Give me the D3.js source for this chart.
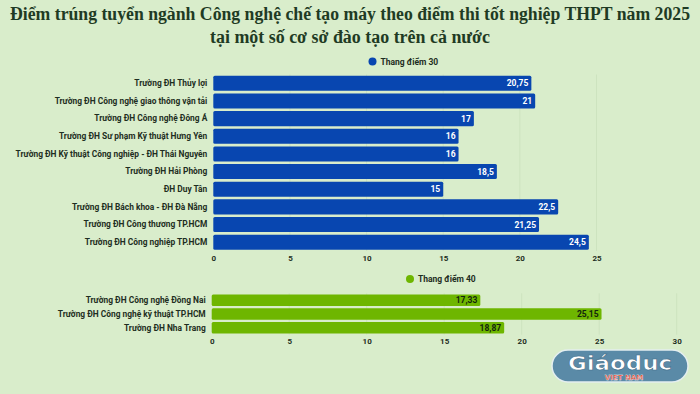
<!DOCTYPE html>
<html>
<head>
<meta charset="utf-8">
<script src="https://cdn.jsdelivr.net/npm/d3@7"></script>
<style>
  body { margin: 0; background: #d9edcb; }
  svg { display: block; }
</style>
</head>
<body>
<div id="chart"></div>
<script>
// Data
const titleLines = [
    'Điểm trúng tuyển ngành Công nghệ chế tạo máy theo điểm thi tốt nghiệp THPT năm 2025',
    'tại một số cơ sở đào tạo trên cả nước'
]

const schools30 = [
    'Trường ĐH Thủy lợi',
    'Trường ĐH Công nghệ giao thông vận tải',
    'Trường ĐH Công nghệ Đông Á',
    'Trường ĐH Sư phạm Kỹ thuật Hưng Yên',
    'Trường ĐH Kỹ thuật Công nghiệp - ĐH Thái Nguyên',
    'Trường ĐH Hải Phòng',
    'ĐH Duy Tân',
    'Trường ĐH Bách khoa - ĐH Đà Nẵng',
    'Trường ĐH Công thương TP.HCM',
    'Trường ĐH Công nghiệp TP.HCM'
]
const scores30 = [20.75, 21, 17, 16, 16, 18.5, 15, 22.5, 21.25, 24.5]
const ticks30 = [0, 5, 10, 15, 20, 25]

const schools40 = [
    'Trường ĐH Công nghệ Đồng Nai',
    'Trường ĐH Công nghệ kỹ thuật TP.HCM',
    'Trường ĐH Nha Trang'
]
const scores40 = [17.33, 25.15, 18.87]
const ticks40 = [0, 5, 10, 15, 20, 25, 30]

const legendNames = ['Thang điểm 30', 'Thang điểm 40']

let dimensions = { width: 700, height: 394 }

const svg = d3.select('#chart')
    .append('svg')
    .attr('width', dimensions.width)
    .attr('height', dimensions.height)

svg.append('rect')
    .attr('width', dimensions.width)
    .attr('height', dimensions.height)
    .attr('fill', '#d9edcb')

// Title
svg.selectAll('.title')
    .data(titleLines)
    .join('text')
    .attr('class', 'title')
    .attr('x', 350)
    .attr('y', (d, i) => 20 + i * 23)
    .attr('text-anchor', 'middle')
    .attr('font-family', '"Liberation Serif", "DejaVu Serif", serif')
    .attr('font-weight', 'bold')
    .attr('font-size', '18px')
    .attr('fill', '#1f3b24')
    .attr('textLength', (d, i) => i === 0 ? 680 : 280)
    .attr('lengthAdjust', 'spacingAndGlyphs')
    .text(d => d)

const labelFont = 'Roboto, "Noto Sans", sans-serif'

function drawPanel(cfg) {
    const xScale = d3.scaleLinear()
        .domain(cfg.domain)
        .range([cfg.left, cfg.right])

    const yScale = d3.scaleBand()
        .domain(cfg.names)
        .range([cfg.top, cfg.bottom])
        .paddingInner(cfg.pad)
        .paddingOuter(cfg.pad / 2)

    const g = svg.append('g')

    // faint gridlines
    g.selectAll('.grid')
        .data(cfg.ticks.slice(1))
        .join('line')
        .attr('x1', d => xScale(d))
        .attr('x2', d => xScale(d))
        .attr('y1', cfg.top)
        .attr('y2', cfg.bottom)
        .attr('stroke', '#cde3bf')
        .attr('stroke-width', 1)

    // legend
    g.append('circle')
        .attr('cx', cfg.legendX)
        .attr('cy', cfg.legendY)
        .attr('r', 4)
        .attr('fill', cfg.color)
    g.append('text')
        .attr('x', cfg.legendX + 8)
        .attr('y', cfg.legendY + 3)
        .attr('font-family', labelFont)
        .attr('font-size', '8.5px')
        .attr('font-weight', 700)
        .attr('fill', '#1e2e22')
        .text(cfg.legend)

    // bars
    const data = cfg.names.map((n, i) => ({ name: n, value: cfg.values[i] }))
    g.selectAll('.bar')
        .data(data)
        .join('rect')
        .attr('x', xScale(0))
        .attr('y', d => yScale(d.name))
        .attr('width', d => xScale(d.value) - xScale(0))
        .attr('height', yScale.bandwidth())
        .attr('rx', 1.5)
        .attr('fill', cfg.color)

    g.selectAll('.val')
        .data(data)
        .join('text')
        .attr('x', d => xScale(d.value) - 3)
        .attr('y', d => yScale(d.name) + yScale.bandwidth() / 2 + 3)
        .attr('text-anchor', 'end')
        .attr('font-family', labelFont)
        .attr('font-size', '8.5px')
        .attr('font-weight', 700)
        .attr('fill', cfg.valueColor)
        .text(d => String(d.value).replace('.', ','))

    // Y labels
    const yAxis = d3.axisLeft(yScale).tickSize(0).tickPadding(6)
    const yAxisGroup = g.append('g')
        .attr('transform', `translate(${xScale(0)},0)`)
        .call(yAxis)
    yAxisGroup.select('.domain').remove()
    yAxisGroup.selectAll('text')
        .attr('font-family', labelFont)
        .attr('font-size', '8.4px')
        .attr('font-weight', 700)
        .attr('fill', '#1e2e22')

    // X axis
    const xAxis = d3.axisBottom(xScale).tickValues(cfg.ticks).tickSize(0).tickPadding(4)
    const xAxisGroup = g.append('g')
        .attr('transform', `translate(0,${cfg.bottom})`)
        .call(xAxis)
    xAxisGroup.select('.domain').remove()
    xAxisGroup.selectAll('text')
        .attr('font-family', labelFont)
        .attr('font-size', '8px')
        .attr('font-weight', 700)
        .attr('fill', '#1e2e22')
}

drawPanel({
    names: schools30, values: scores30, ticks: ticks30,
    domain: [0, 25], left: 213.3, right: 596.5,
    top: 74.5, bottom: 251, pad: 0.15,
    color: '#0846b0', valueColor: '#ffffff',
    legend: legendNames[0], legendX: 372.5, legendY: 61.5
})

drawPanel({
    names: schools40, values: scores40, ticks: ticks40,
    domain: [0, 30], left: 211.7, right: 676.7,
    top: 293.3, bottom: 334.7, pad: 0.17,
    color: '#6eb600', valueColor: '#13240e',
    legend: legendNames[1], legendX: 410, legendY: 279
})

// logo watermark
const logo = svg.append('g')
logo.append('rect')
    .attr('x', 552).attr('y', 350)
    .attr('width', 136).attr('height', 32)
    .attr('rx', 16)
    .attr('fill', '#5a8aa7')
    .attr('stroke', '#e4eef0')
    .attr('stroke-width', 1.5)
logo.append('text')
    .attr('x', 620).attr('y', 370)
    .attr('text-anchor', 'middle')
    .attr('font-family', '"DejaVu Sans", sans-serif')
    .attr('font-weight', 'bold')
    .attr('font-size', '20px')
    .attr('fill', '#ffffff')
    .attr('stroke', '#3f6c87')
    .attr('stroke-width', 0.6)
    .attr('textLength', 104)
    .attr('lengthAdjust', 'spacingAndGlyphs')
    .text('Giáoduc')
logo.append('text')
    .attr('x', 624).attr('y', 380)
    .attr('text-anchor', 'middle')
    .attr('font-family', '"DejaVu Sans", sans-serif')
    .attr('font-weight', 'bold')
    .attr('font-size', '7px')
    .attr('fill', '#e8452a')
    .attr('stroke', '#ffffff')
    .attr('stroke-width', 0.3)
    .text('VIET NAM')
</script>
</body>
</html>
